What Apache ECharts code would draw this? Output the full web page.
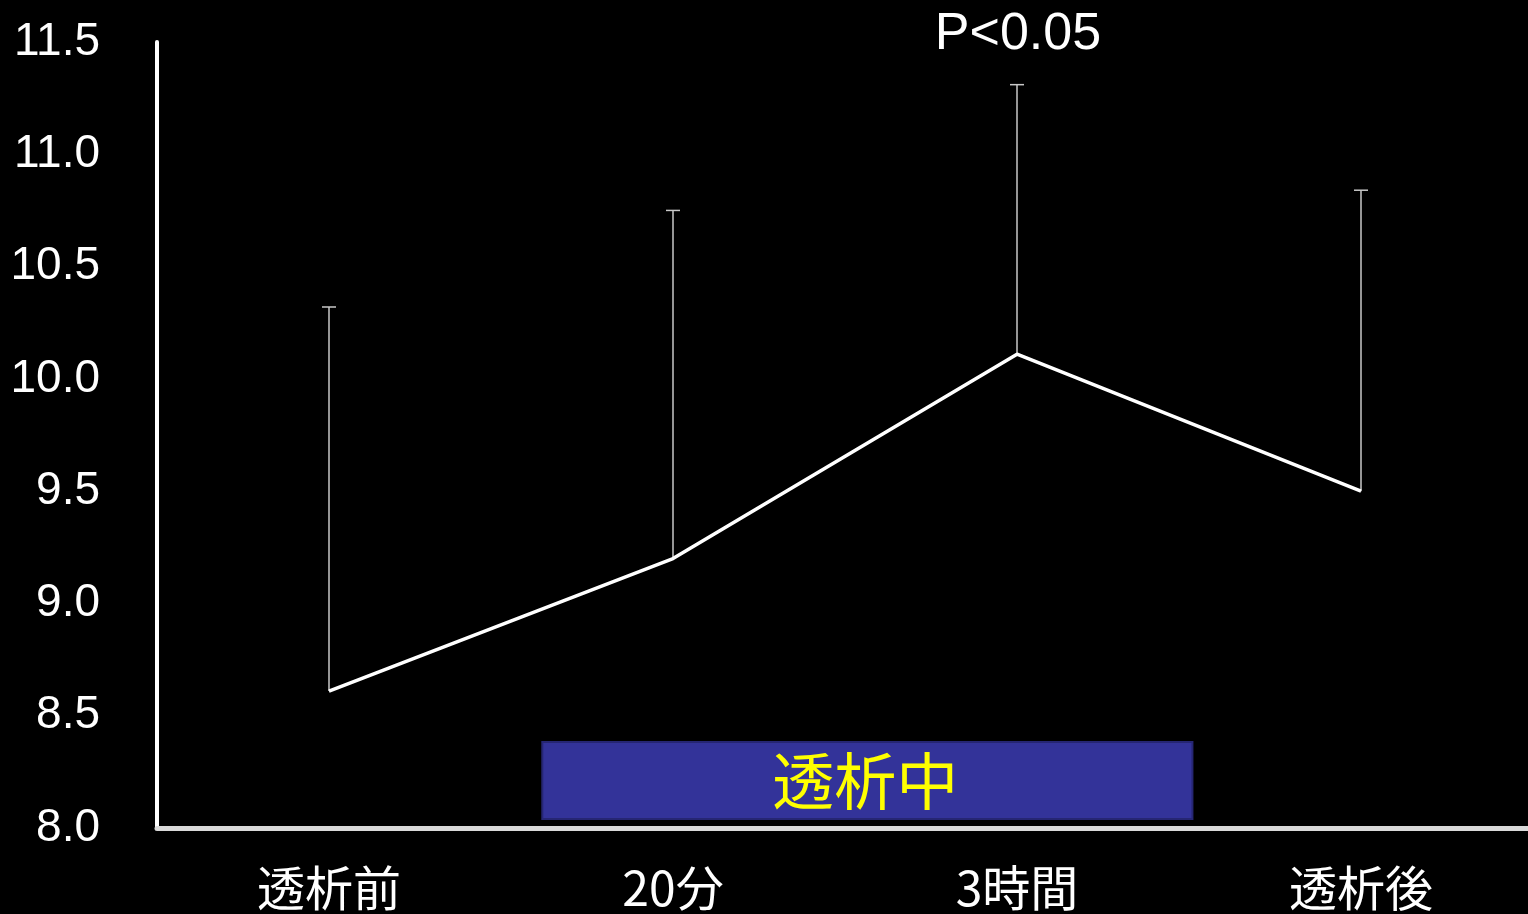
<!DOCTYPE html>
<html>
<head>
<meta charset="utf-8">
<script src="https://cdn.jsdelivr.net/npm/echarts@6/dist/echarts.min.js"></script>
<style>
  html, body { margin: 0; padding: 0; background: #000; }
  #chart { width: 1528px; height: 914px; }
</style>
</head>
<body>
<div id="chart"></div>
<script>
// Time points during a dialysis session
const categories = ['透析前', '20分', '3時間', '透析後'];
// Mean values and upper end of the error bar (mean + SD)
const meanValues = [8.61, 9.20, 10.11, 9.50];
const upperValues = [10.32, 10.75, 11.31, 10.84];
// Significance annotation above each time point
const significance = ['', '', 'P<0.05', ''];
// Shaded band marking the dialysis period: [start category pos, end category pos, low, high]
const dialysisBand = [[0.62, 2.51, 8.04, 8.383]];
const dialysisLabel = '透析中';

const latin = '"Liberation Sans", Arial, sans-serif';
const cjk = '"Noto Sans CJK JP", "Noto Sans CJK SC", sans-serif';

const chart = echarts.init(document.getElementById('chart'));

chart.setOption({
  backgroundColor: '#000000',
  animation: false,
  grid: { left: 157, width: 1376, top: 42, bottom: 86, outerBoundsMode: 'none', containLabel: false },
  xAxis: {
    type: 'category',
    data: categories,
    boundaryGap: true,
    axisLine: { lineStyle: { color: '#d9d9d9', width: 5 } },
    axisTick: { show: false },
    axisLabel: {
      color: '#ffffff',
      fontFamily: cjk,
      fontSize: 48,
      lineHeight: 48,
      margin: 36
    },
    splitLine: { show: false }
  },
  yAxis: {
    type: 'value',
    min: 8,
    max: 11.5,
    interval: 0.5,
    axisLine: { show: true, lineStyle: { color: '#ffffff', width: 4 } },
    axisTick: { show: false },
    splitLine: { show: false },
    axisLabel: {
      color: '#ffffff',
      fontFamily: latin,
      fontSize: 46,
      margin: 57,
      formatter: v => v.toFixed(1)
    }
  },
  series: [
    {
      // dialysis period band with its label
      type: 'custom',
      data: dialysisBand,
      z: 1,
      renderItem: function (params, api) {
        const band = api.size([1, 0])[0];
        const p0 = api.coord([0, api.value(3)]);
        const x0 = p0[0] + api.value(0) * band;
        const x1 = p0[0] + api.value(1) * band;
        const yTop = api.coord([0, api.value(3)])[1];
        const yBot = api.coord([0, api.value(2)])[1];
        return {
          type: 'group',
          children: [
            {
              type: 'rect',
              shape: { x: x0, y: yTop, width: x1 - x0, height: yBot - yTop },
              style: { fill: '#333399', stroke: '#262673', lineWidth: 2 }
            },
            {
              type: 'text',
              style: {
                x: (x0 + x1) / 2 - 2,
                y: (yTop + yBot) / 2 + 1,
                text: dialysisLabel,
                fill: '#ffff00',
                font: '62px ' + cjk,
                textAlign: 'center',
                textVerticalAlign: 'middle'
              }
            }
          ]
        };
      }
    },
    {
      // error bars (upper whisker with cap) and significance note
      type: 'custom',
      data: categories.map((c, i) => [i, meanValues[i], upperValues[i]]),
      z: 2,
      renderItem: function (params, api) {
        const i = api.value(0);
        const low = api.coord([i, api.value(1)]);
        const high = api.coord([i, api.value(2)]);
        const cap = 7;
        const children = [
          {
            type: 'line',
            shape: { x1: low[0], y1: low[1], x2: high[0], y2: high[1] },
            style: { stroke: '#c8c8c8', lineWidth: 1.5 }
          },
          {
            type: 'line',
            shape: { x1: high[0] - cap, y1: high[1], x2: high[0] + cap, y2: high[1] },
            style: { stroke: '#c8c8c8', lineWidth: 1.5 }
          }
        ];
        const note = significance[params.dataIndex];
        if (note) {
          children.push({
            type: 'text',
            style: {
              x: high[0] + 1,
              y: high[1] - 50,
              text: note,
              fill: '#ffffff',
              font: '52px ' + latin,
              textAlign: 'center',
              textVerticalAlign: 'middle'
            }
          });
        }
        return { type: 'group', children: children };
      }
    },
    {
      // mean values
      type: 'line',
      data: meanValues,
      z: 3,
      symbol: 'none',
      lineStyle: { color: '#ffffff', width: 3.5 }
    }
  ]
});
</script>
</body>
</html>
